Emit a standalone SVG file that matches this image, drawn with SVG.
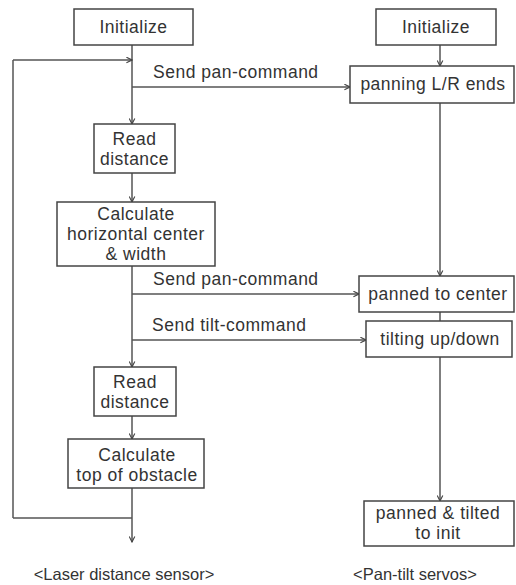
<svg xmlns="http://www.w3.org/2000/svg" width="516" height="585" viewBox="0 0 516 585">
<defs>
<marker id="ah" viewBox="0 0 10 10" refX="9" refY="5" markerWidth="7" markerHeight="7" markerUnits="userSpaceOnUse" orient="auto">
<path d="M1,1 L9,5 L1,9" fill="none" stroke="#444" stroke-width="1.6"/>
</marker>
<style>
.box{fill:#fff;stroke:#444;stroke-width:1.5}
.t{font-family:"Liberation Sans",Arial,sans-serif;font-size:17.5px;letter-spacing:0.5px;fill:#333;text-anchor:middle}
.l{font-family:"Liberation Sans",Arial,sans-serif;font-size:17.5px;letter-spacing:0.5px;fill:#333}
.cap{font-family:"Liberation Sans",Arial,sans-serif;font-size:16.5px;fill:#333;text-anchor:middle}
.c{fill:none;stroke:#555;stroke-width:1.5}
</style>
</defs>
<rect width="516" height="585" fill="#fff"/>
<g id="connectors">
<path class="c" d="M132,45 V124" marker-end="url(#ah)"/>
<path class="c" d="M13,60 H132" marker-end="url(#ah)"/>
<path class="c" d="M13,518 V60"/>
<path class="c" d="M132,87 H350" marker-end="url(#ah)"/>
<path class="c" d="M132,173 V202" marker-end="url(#ah)"/>
<path class="c" d="M132,266 V367" marker-end="url(#ah)"/>
<path class="c" d="M132,294 H359" marker-end="url(#ah)"/>
<path class="c" d="M132,340 H366" marker-end="url(#ah)"/>
<path class="c" d="M132,416 V439" marker-end="url(#ah)"/>
<path class="c" d="M132,488 V542" marker-end="url(#ah)"/>
<path class="c" d="M13,518 H132"/>
<path class="c" d="M440,45 V66" marker-end="url(#ah)"/>
<path class="c" d="M440,103 V276" marker-end="url(#ah)"/>
<path class="c" d="M440,312 V321"/>
<path class="c" d="M440,357 V501" marker-end="url(#ah)"/>
<text class="l" x="153" y="78">Send pan-command</text>
<text class="l" x="153" y="285">Send pan-command</text>
<text class="l" x="152" y="331">Send tilt-command</text>
</g>
<g id="init-left"><rect class="box" x="74" y="9" width="119" height="36"/><text class="t" x="133.5" y="33">Initialize</text></g>
<g id="read1"><rect class="box" x="94" y="124" width="81" height="49"/><text class="t" x="134.5" y="145">Read</text><text class="t" x="134.5" y="165">distance</text></g>
<g id="calc-h"><rect class="box" x="57" y="202" width="158" height="64"/><text class="t" x="136" y="220">Calculate</text><text class="t" x="136" y="240">horizontal center</text><text class="t" x="136" y="260">&amp; width</text></g>
<g id="read2"><rect class="box" x="94" y="367" width="82" height="49"/><text class="t" x="135" y="388">Read</text><text class="t" x="135" y="408">distance</text></g>
<g id="calc-top"><rect class="box" x="68" y="439" width="136" height="49"/><text class="t" x="137" y="461">Calculate</text><text class="t" x="137" y="480.5">top of obstacle</text></g>
<g id="init-right"><rect class="box" x="376" y="9" width="120" height="36"/><text class="t" x="436" y="33">Initialize</text></g>
<g id="panning"><rect class="box" x="350" y="66" width="164" height="37"/><text class="t" x="433" y="90">panning L/R ends</text></g>
<g id="panned-center"><rect class="box" x="359" y="276" width="155" height="36"/><text class="t" x="438" y="300">panned to center</text></g>
<g id="tilting"><rect class="box" x="366" y="321" width="146" height="36"/><text class="t" x="440" y="345">tilting up/down</text></g>
<g id="panned-init"><rect class="box" x="364" y="501" width="150" height="45"/><text class="t" x="438" y="519">panned &amp; tilted</text><text class="t" x="438" y="538.5">to init</text></g>
<text class="cap" x="124" y="580">&lt;Laser distance sensor&gt;</text>
<text class="cap" x="415" y="580">&lt;Pan-tilt servos&gt;</text>
</svg>
